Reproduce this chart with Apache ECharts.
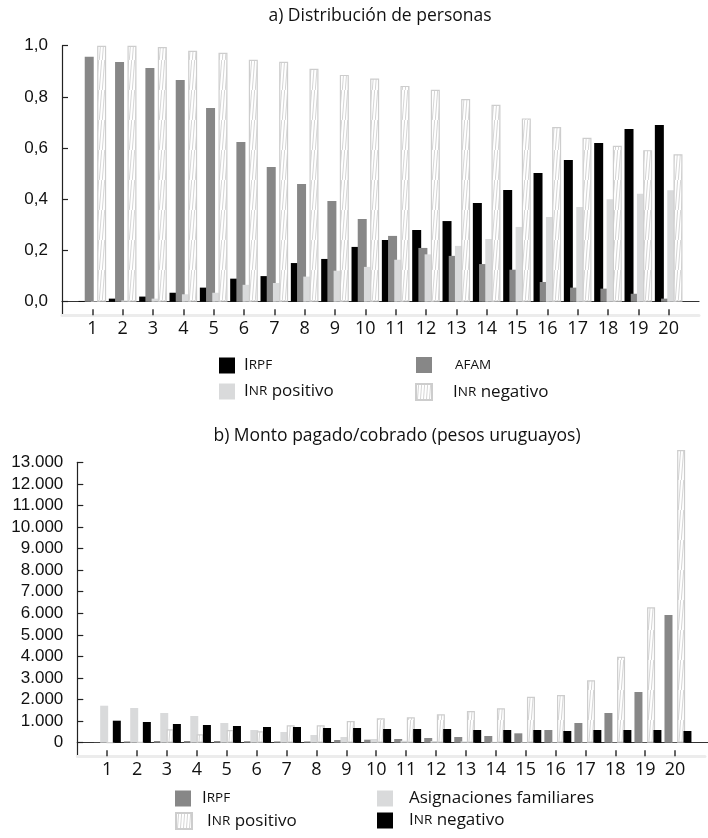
<!DOCTYPE html>
<html>
<head>
<meta charset="utf-8">
<script src="https://cdn.jsdelivr.net/npm/echarts@6/dist/echarts.min.js"></script>
<style>
  html, body { margin: 0; padding: 0; background: #fff; }
  #top { position: absolute; left: 0; top: 0; width: 708px; height: 420px; }
  #bot { position: absolute; left: 0; top: 420px; width: 708px; height: 418px; }
</style>
</head>
<body>
<div id="top"></div>
<div id="bot"></div>
<script>
// Groups 1..20
const categories = ['1','2','3','4','5','6','7','8','9','10','11','12','13','14','15','16','17','18','19','20'];

// a) Distribución de personas (share of persons)
const perIRPF   = [0.003, 0.012, 0.020, 0.035, 0.055, 0.090, 0.100, 0.151, 0.167, 0.214, 0.241, 0.280, 0.315, 0.386, 0.436, 0.503, 0.554, 0.620, 0.675, 0.690];
const perAFAM   = [0.957, 0.936, 0.913, 0.866, 0.757, 0.624, 0.526, 0.460, 0.393, 0.323, 0.257, 0.210, 0.179, 0.147, 0.125, 0.077, 0.055, 0.051, 0.031, 0.012];
const perINRpos = [0.002, 0.005, 0.012, 0.029, 0.035, 0.066, 0.073, 0.098, 0.121, 0.136, 0.164, 0.185, 0.218, 0.245, 0.292, 0.331, 0.370, 0.400, 0.422, 0.435];
const perINRneg = [1.000, 1.000, 0.995, 0.980, 0.972, 0.945, 0.937, 0.910, 0.886, 0.872, 0.843, 0.828, 0.792, 0.769, 0.716, 0.682, 0.640, 0.609, 0.592, 0.576];

// b) Monto pagado/cobrado (pesos uruguayos)
const amtIRPF   = [10, 60, 80, 80, 80, 70, 60, 60, 124, 140, 171, 218, 264, 310, 435, 589, 913, 1377, 2350, 5920];
const amtAF     = [1715, 1609, 1377, 1238, 913, 589, 496, 357, 264, 171, 90, 80, 60, 40, 30, 25, 20, 15, 10, 10];
const amtINRpos = [0, 30, 620, 390, 589, 527, 806, 806, 1006, 1130, 1177, 1315, 1470, 1595, 2133, 2211, 2893, 3987, 6277, 13570];
const amtINRneg = [1020, 960, 867, 820, 774, 728, 728, 682, 682, 635, 635, 635, 589, 589, 589, 542, 589, 589, 589, 542];

const perTicks = [0, 0.2, 0.4, 0.6, 0.8, 1.0];
const amtMax = 13000;
const amtStep = 1000;

// empty slot at each end so the category axis reaches the y axis and the right edge
const padCats = [''].concat(categories, ['']);
const pad = arr => [null].concat(arr, [null]);

const BLACK = '#000000';
const GRAY = '#878787';
const LIGHT = '#d9dadb';

function hatchPattern() {
  const c = document.createElement('canvas');
  c.width = 3; c.height = 30;
  const g = c.getContext('2d');
  g.fillStyle = '#ffffff';
  g.fillRect(0, 0, 3, 30);
  g.strokeStyle = '#d0d0d0';
  g.lineWidth = 0.9;
  g.beginPath();
  g.moveTo(0.3, 30);
  g.lineTo(2.7, 0);
  g.stroke();
  return c;
}
const hatchStyle = {
  color: { image: hatchPattern(), repeat: 'repeat' },
  borderColor: '#cdcdcd',
  borderWidth: 1.2
};

const FONT = '"Open Sans", "Noto Sans", sans-serif';
const NUMFONT = '"Liberation Sans", Arial, sans-serif';

function legendText(name) {
  if (name === 'IRPF') return '{g| }{c|I}{s|RPF}';
  if (name === 'AFAM') return '{g| }{s|AFAM}';
  if (name === 'INR positivo') return '{g| }{c|I}{s|NR}{n| positivo}';
  if (name === 'INR negativo') return '{g| }{c|I}{s|NR}{n| negativo}';
  return '{g| }{n|' + name + '}';
}
function legendItem(name, left, top, gap) {
  return {
    data: [name], left: left, top: top, padding: 0,
    itemWidth: 16, itemHeight: 16, icon: 'rect', selectedMode: false,
    formatter: legendText,
    textStyle: {
      rich: {
        g: { width: gap, fontSize: 10, lineHeight: 16 },
        c: { fontSize: 17, fontFamily: FONT, color: '#111', lineHeight: 16 },
        s: { fontSize: 13.5, fontFamily: FONT, color: '#111', lineHeight: 16 },
        n: { fontSize: 17, fontFamily: FONT, color: '#111', lineHeight: 16 }
      }
    }
  };
}

function axes(labelsCount, yCfg) {
  const tickFilter = (i) => i > 0 && i <= labelsCount;
  return {
    xAxis: [
      { gridIndex: 0, type: 'category', data: padCats, boundaryGap: false,
        axisLine: { onZero: false, lineStyle: { color: '#333', width: 1.2 } },
        axisTick: { show: false }, axisLabel: { show: false } },
      { gridIndex: 1, type: 'category', data: padCats, boundaryGap: false,
        axisLine: { onZero: false, lineStyle: { color: '#ececec', width: 3 } },
        axisTick: { inside: true, length: 6, interval: tickFilter, lineStyle: { color: '#333', width: 1.5 } },
        axisLabel: { interval: 0, margin: 5, fontSize: 18, fontFamily: FONT, color: '#111' } }
    ],
    yAxis: [
      Object.assign({ gridIndex: 0, type: 'value',
        axisLine: { show: true, lineStyle: { color: '#222', width: 1.2 } },
        axisTick: { show: true, inside: true, length: 6, lineStyle: { color: '#222', width: 1.2 } },
        splitLine: { show: false } }, yCfg),
      { gridIndex: 1, type: 'value', min: 0, max: 1,
        axisLine: { show: true, onZero: false, lineStyle: { color: '#222', width: 1.2 } },
        axisTick: { show: false }, axisLabel: { show: false }, splitLine: { show: false } }
    ]
  };
}

function bar(name, values, style, width, gap) {
  return {
    type: 'bar', name: name, xAxisIndex: 0, yAxisIndex: 0,
    data: pad(values), barWidth: width, barGap: gap, clip: false,
    itemStyle: style
  };
}

function titleText(text, x) {
  return [{
    type: 'text', x: x, y: 16,
    style: { text: text, font: '17.5px ' + FONT, fill: '#111',
      textAlign: 'center', textVerticalAlign: 'middle', verticalAlign: 'middle' }
  }];
}

// ---------- a) ----------
const topChart = echarts.init(document.getElementById('top'), null, { renderer: 'canvas' });
const topAxes = axes(categories.length, {
  min: perTicks[0], max: perTicks[perTicks.length - 1], interval: perTicks[1] - perTicks[0],
  axisLabel: { margin: 14, fontSize: 17, fontFamily: NUMFONT, color: '#111',
    formatter: v => v.toFixed(1).replace('.', ',') }
});
topChart.setOption({
  animation: false,
  grid: [
    { left: 62, top: 45.7, width: 637, height: 256 },
    { left: 62, top: 301.7, width: 637, height: 13.5 }
  ],
  xAxis: topAxes.xAxis,
  yAxis: topAxes.yAxis,
  graphic: titleText('a) Distribución de personas', 380),
  legend: [
    legendItem('IRPF', 219, 357, 4),
    legendItem('AFAM', 416, 357, 18),
    legendItem('INR positivo', 219, 383, 4),
    legendItem('INR negativo', 415, 383, 16)
  ],
  series: [
    bar('IRPF', perIRPF, { color: BLACK }, 9, '-31%'),
    bar('AFAM', perAFAM, { color: GRAY }, 9, '-31%'),
    bar('INR positivo', perINRpos, { color: LIGHT }, 9, '-31%'),
    bar('INR negativo', perINRneg, hatchStyle, 9, '-31%')
  ]
});

// ---------- b) ----------
const botChart = echarts.init(document.getElementById('bot'), null, { renderer: 'canvas' });
const thousands = v => String(v).replace(/\B(?=(\d{3})+(?!\d))/g, '.');
const botAxes = axes(categories.length, {
  min: 0, max: amtMax, interval: amtStep,
  axisLabel: { margin: 14, fontSize: 17, fontFamily: NUMFONT, color: '#111', formatter: thousands }
});
botChart.setOption({
  animation: false,
  grid: [
    { left: 77.3, top: 42.3, width: 631, height: 280.4 },
    { left: 77.3, top: 322.7, width: 631, height: 13.5 }
  ],
  xAxis: botAxes.xAxis,
  yAxis: botAxes.yAxis,
  graphic: titleText('b) Monto pagado/cobrado (pesos uruguayos)', 397),
  legend: [
    legendItem('IRPF', 175, 370, 6),
    legendItem('Asignaciones familiares', 377, 370, 11),
    legendItem('INR positivo', 175, 392, 10),
    legendItem('INR negativo', 377, 392, 11)
  ],
  series: [
    bar('IRPF', amtIRPF, { color: GRAY }, 8, '-21%'),
    bar('Asignaciones familiares', amtAF, { color: LIGHT }, 8, '-21%'),
    bar('INR positivo', amtINRpos, hatchStyle, 8, '-21%'),
    bar('INR negativo', amtINRneg, { color: BLACK }, 8, '-21%')
  ]
});
</script>
</body>
</html>
